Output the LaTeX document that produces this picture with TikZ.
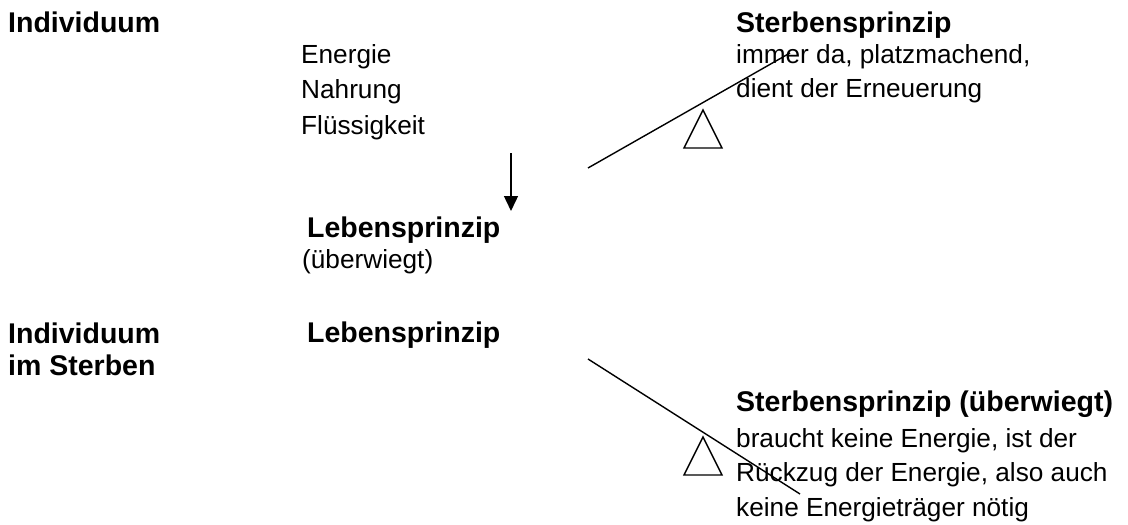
\documentclass[tikz,border=0pt]{standalone}
\usepackage{fontspec}
\setmainfont{Liberation Sans}
\usetikzlibrary{arrows.meta}
\begin{document}
\begin{tikzpicture}[x=1pt,y=-1pt,
  boldtxt/.style={inner sep=0pt,anchor=base west,font=\fontsize{28.5}{33}\selectfont\bfseries},
  regtxt/.style={inner sep=0pt,anchor=base west,font=\fontsize{26.2}{33}\selectfont},
  beam/.style={line width=1.4pt},
  fulcrum/.style={line width=1.4pt},
  flow/.style={line width=1.4pt,-{Triangle[length=15pt,width=14pt]}}]
\useasboundingbox (0,0) rectangle (1128,525);
% upper part
\node[boldtxt] (ind1) at (8,32) {Individuum};
\node[regtxt] (energie) at (301,63) {Energie};
\node[regtxt] (nahrung) at (301,98) {Nahrung};
\node[regtxt] (fluess) at (301,134) {Flüssigkeit};
\node[boldtxt] (sterb1) at (736,32) {Sterbensprinzip};
\node[regtxt] (immer) at (736,63) {immer da, platzmachend,};
\node[regtxt] (dient) at (736,97) {dient der Erneuerung};
\node[boldtxt] (leben1) at (307,237) {Lebensprinzip};
\node[regtxt] (ueber1) at (302,268) {(überwiegt)};
\coordinate (arrS) at (511,153);
\coordinate (arrE) at (511,211);
\draw[flow] (arrS) -- (arrE);
\coordinate (beam1a) at (588,168);
\coordinate (beam1b) at (790,53);
\draw[beam] (beam1a) -- (beam1b);
\coordinate (t1a) at (703,110);
\coordinate (t1b) at (684,148);
\coordinate (t1c) at (722,148);
\draw[fulcrum] (t1a) -- (t1b) -- (t1c) -- cycle;
% lower part
\node[boldtxt] (ind2) at (8,343) {Individuum};
\node[boldtxt] (imst) at (8,375) {im Sterben};
\node[boldtxt] (leben2) at (307,342) {Lebensprinzip};
\node[boldtxt] (sterb2) at (736,411) {Sterbensprinzip (überwiegt)};
\node[regtxt] (braucht) at (736,447) {braucht keine Energie, ist der};
\node[regtxt] (rueck) at (736,481) {Rückzug der Energie, also auch};
\node[regtxt] (keine) at (736,516) {keine Energieträger nötig};
\coordinate (beam2a) at (588,359);
\coordinate (beam2b) at (800,494);
\draw[beam] (beam2a) -- (beam2b);
\coordinate (t2a) at (703,437);
\coordinate (t2b) at (684,475);
\coordinate (t2c) at (722,475);
\draw[fulcrum] (t2a) -- (t2b) -- (t2c) -- cycle;
\end{tikzpicture}
\end{document}
